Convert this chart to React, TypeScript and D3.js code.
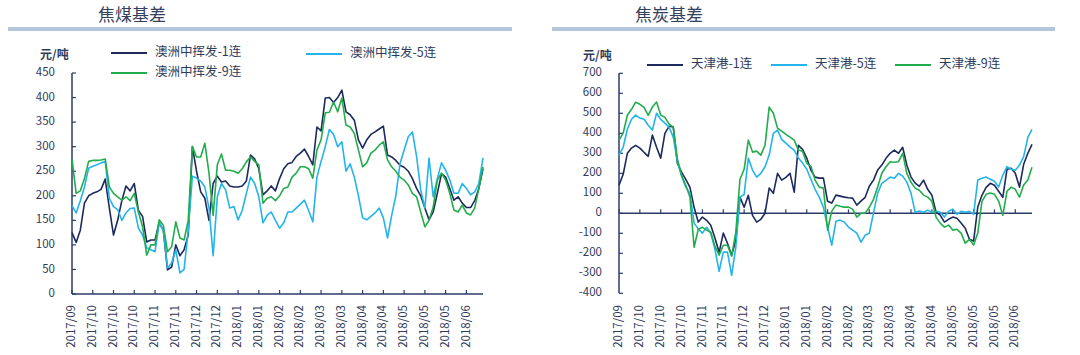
import React from "react";
import * as d3 from "d3";

// ---------- data ----------
const X_LABELS = [
  "2017/09", "2017/10", "2017/10", "2017/10", "2017/11", "2017/11", "2017/12", "2017/12",
  "2018/01", "2018/01", "2018/02", "2018/02", "2018/03", "2018/03", "2018/04", "2018/04",
  "2018/05", "2018/05", "2018/05", "2018/06",
];
const LABEL_STEP = 5;

const COAL_Y_TICKS = [0, 50, 100, 150, 200, 250, 300, 350, 400, 450];
const COKE_Y_TICKS = [-400, -300, -200, -100, 0, 100, 200, 300, 400, 500, 600, 700];

const COAL_NAMES = ["澳洲中挥发-1连", "澳洲中挥发-5连", "澳洲中挥发-9连"];
const COKE_NAMES = ["天津港-1连", "天津港-5连", "天津港-9连"];

const COAL_1 = [
  125, 105, 130, 185, 200, 205, 208, 213, 234, 175,
  120, 150, 190, 220, 210, 225, 170, 158, 106, 110,
  110, 145, 130, 49, 55, 100, 78, 90, 120, 300,
  250, 208, 195, 150, 225, 240, 228, 230, 220, 218,
  218, 220, 230, 283, 275, 255, 202, 210, 220, 210,
  235, 255, 265, 268, 280, 287, 295, 280, 263, 340,
  332, 399, 400, 390, 400, 415, 371, 365, 354, 314,
  297, 314, 325, 330, 336, 342, 283, 279, 272, 262,
  258, 250, 235, 215, 200, 175, 151, 167, 205, 245,
  238, 215, 191, 198, 185, 176, 176, 190, 215, 255,
];
const COAL_5 = [
  180, 165, 190, 218, 256, 260, 263, 267, 270, 195,
  178, 172, 150, 165, 174, 175, 134, 120, 94, 90,
  86, 145, 130, 53, 63, 90, 43, 50, 130, 240,
  236, 230, 218, 175, 78, 198, 225, 212, 175, 178,
  151, 170, 205, 238, 225, 198, 145, 160, 167, 150,
  134, 145, 167, 167, 175, 183, 191, 170, 147, 238,
  270, 300, 335, 325, 300, 310, 250, 265, 238, 200,
  155, 151, 158, 165, 175, 155, 114, 160, 200, 265,
  293, 320, 330, 280, 212, 175, 277, 198, 235, 267,
  252, 232, 205, 205, 225, 215, 202, 208, 225, 277,
];
const COAL_9 = [
  275, 205, 210, 235, 270, 272, 272, 273, 275, 218,
  205, 198, 191, 198, 190, 205, 167, 137, 79, 100,
  100, 151, 140, 86, 96, 147, 114, 110, 150, 300,
  279, 279, 307, 246, 160, 263, 285, 252, 252, 250,
  246, 255, 269, 279, 270, 263, 185, 195, 198, 190,
  200, 215, 218, 238, 246, 259, 259, 255, 236, 293,
  314, 369, 370, 391, 371, 399, 344, 340, 327, 293,
  259, 267, 287, 293, 303, 310, 273, 259, 250, 238,
  232, 222, 205, 198, 167, 137, 150, 177, 232, 246,
  232, 205, 171, 167, 181, 165, 161, 175, 215, 259,
];

const COKE_1 = [
  141, 195, 300, 326, 340, 326, 305, 285, 391, 330,
  276, 400, 435, 432, 250, 206, 170, 131, 30, -44,
  -19, -35, -60, -124, -195, -99, -150, -210, -134, 81,
  30, 90, -10, -44, -30, 0, 126, 100, 200, 166,
  180, 200, 106, 340, 320, 276, 216, 181, 176, 176,
  60, 51, 91, 86, 81, 78, 76, 41, 61, 80,
  135, 166, 216, 241, 275, 300, 316, 300, 330, 240,
  181, 151, 135, 166, 120, 90, 6, -9, -44, -30,
  -19, -25, -49, -75, -130, -139, 31, 90, 130, 150,
  140, 110, 80, 220, 225, 200, 131, 245, 300, 345,
];
const COKE_5 = [
  291, 330, 420, 470, 491, 476, 470, 440, 416, 500,
  470, 451, 431, 381, 260, 185, 131, 101, -49, -78,
  -99, -69, -100, -180, -290, -194, -194, -310, -170, 81,
  95, 276, 216, 181, 200, 233, 291, 400, 416, 370,
  351, 331, 316, 276, 251, 220, 170, 120, 81, 30,
  -70, -159, -40, -34, -44, -69, -84, -99, -144, -110,
  -99, 1, 101, 150, 165, 181, 175, 200, 186, 156,
  100, 5, 11, 5, 16, 5, 10, 5, -19, 10,
  21, -5, 10, 5, 10, -5, 166, 175, 181, 170,
  160, 131, 190, 233, 220, 215, 241, 283, 380, 420,
];
const COKE_9 = [
  366, 401, 490, 520, 556, 545, 530, 490, 531, 556,
  491, 480, 446, 431, 270, 190, 140, 81, -170, -80,
  -70, -84, -95, -164, -209, -160, -160, -214, -94, 170,
  220, 366, 306, 311, 291, 340, 531, 500, 426, 411,
  395, 381, 366, 316, 310, 250, 235, 166, 131, 126,
  -84, 11, 41, 35, 31, 31, 21, -19, 0, 1,
  30, 70, 131, 200, 233, 258, 255, 258, 300, 200,
  155, 126, 115, 91, 81, 61, -19, -49, -69, -59,
  -84, -80, -99, -149, -130, -159, -99, 60, 95, 101,
  95, 61, -10, 110, 131, 120, 81, 141, 166, 230,
];

// ---------- style ----------
const COLORS = ["#1c2a5c", "#22b4ea", "#22ad4c"];
const AXIS = "#2c3d6a";
const TEXT = "#2f3b5a";
const FONT = "'Noto Sans CJK SC', 'Noto Sans', sans-serif";

type PanelProps = {
  title: string;
  titleX: number;
  barX: [number, number];
  xRange: [number, number];
  yRange: [number, number];
  yDomain: [number, number];
  yTicks: number[];
  series: number[][];
  names: string[];
  legend: { x: number; y: number }[];
  unitX: number;
  unitY: number;
};

function Panel(p: PanelProps) {
  const n = p.series[0].length;
  const x = d3.scaleLinear().domain([0, n - 1]).range(p.xRange);
  const y = d3.scaleLinear().domain(p.yDomain).range(p.yRange);
  const line = d3
    .line<number>()
    .x((_, i) => x(i))
    .y((d) => y(d));
  const zeroY = y(Math.max(0, p.yDomain[0]));
  const labelTop = 305;
  const tickIdx = X_LABELS.map((_, i) => i * LABEL_STEP);
  return (
    <g fontFamily={FONT}>
      <text x={p.titleX} y={21} fontSize={17} fill="#34405e">
        {p.title}
      </text>
      <rect x={p.barX[0]} y={27} width={p.barX[1] - p.barX[0]} height={4} fill="#b5c6da" />
      <text x={p.unitX} y={p.unitY} fontSize={12} fontWeight="bold" fill={TEXT} dominantBaseline="middle">
        元/吨
      </text>
      {/* y axis */}
      <line x1={p.xRange[0]} x2={p.xRange[0]} y1={p.yRange[1]} y2={p.yRange[0]} stroke={AXIS} strokeWidth={1.5} />
      {p.yTicks.map((t) => (
        <g key={"y" + t}>
          <line x1={p.xRange[0]} x2={p.xRange[0] + 4} y1={y(t)} y2={y(t)} stroke={AXIS} strokeWidth={1.2} />
          <text
            x={p.xRange[0] - 17}
            y={y(t)}
            fontSize={11.5}
            fill={TEXT}
            textAnchor="end"
            dominantBaseline="middle"
          >
            {t}
          </text>
        </g>
      ))}
      {/* x axis */}
      <line x1={p.xRange[0]} x2={p.xRange[1]} y1={zeroY} y2={zeroY} stroke={AXIS} strokeWidth={1.5} />
      {tickIdx.map((ti, k) => (
        <g key={"x" + k}>
          <line x1={x(ti)} x2={x(ti)} y1={zeroY} y2={zeroY - 4} stroke={AXIS} strokeWidth={1.2} />
          <text
            transform={`translate(${x(ti)},${labelTop}) rotate(-90)`}
            fontSize={11.5}
            fill={TEXT}
            textAnchor="end"
            dominantBaseline="middle"
          >
            {X_LABELS[k]}
          </text>
        </g>
      ))}
      {/* series */}
      {p.series.map((s, k) => (
        <path key={"s" + k} d={line(s) || ""} fill="none" stroke={COLORS[k]} strokeWidth={1.6} strokeLinejoin="round" />
      ))}
      {/* legend */}
      {p.names.map((nm, k) => (
        <g key={"l" + k}>
          <line
            x1={p.legend[k].x}
            x2={p.legend[k].x + 36}
            y1={p.legend[k].y}
            y2={p.legend[k].y}
            stroke={COLORS[k]}
            strokeWidth={1.8}
          />
          <text x={p.legend[k].x + 44} y={p.legend[k].y} fontSize={12.5} fill={TEXT} dominantBaseline="middle">
            {nm}
          </text>
        </g>
      ))}
    </g>
  );
}

export default function App() {
  return (
    <svg
      width={1080}
      height={355}
      style={{ position: "absolute", left: 0, top: 0, display: "block", background: "#fff" }}
    >
      <Panel
        title="焦煤基差"
        titleX={98}
        barX={[8, 512]}
        xRange={[72, 483]}
        yRange={[294, 73]}
        yDomain={[0, 450]}
        yTicks={COAL_Y_TICKS}
        series={[COAL_1, COAL_5, COAL_9]}
        names={COAL_NAMES}
        legend={[
          { x: 111, y: 53 },
          { x: 306, y: 54 },
          { x: 111, y: 73 },
        ]}
        unitX={40}
        unitY={56}
      />
      <Panel
        title="焦炭基差"
        titleX={635}
        barX={[552, 1055]}
        xRange={[619, 1032]}
        yRange={[293.3, 73.3]}
        yDomain={[-400, 700]}
        yTicks={COKE_Y_TICKS}
        series={[COKE_1, COKE_5, COKE_9]}
        names={COKE_NAMES}
        legend={[
          { x: 647, y: 65 },
          { x: 771, y: 65 },
          { x: 895, y: 65 },
        ]}
        unitX={583}
        unitY={57}
      />
    </svg>
  );
}
